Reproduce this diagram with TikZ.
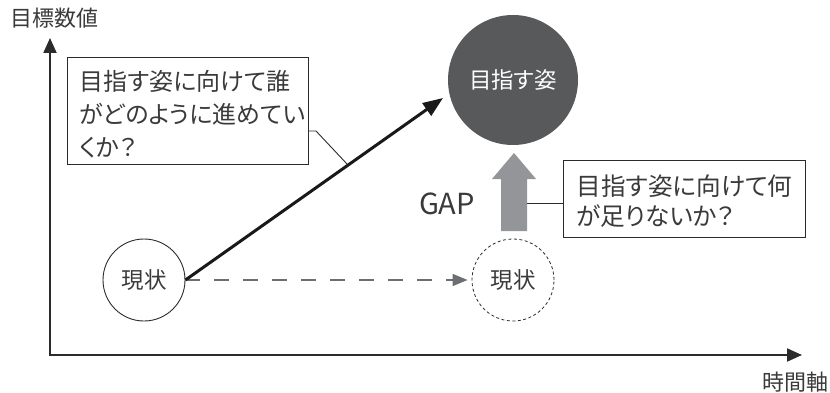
\documentclass[tikz,border=0pt]{standalone}
\usepackage{fontspec}
\setmainfont{Noto Sans CJK JP}[RawFeature=+palt]
\usetikzlibrary{arrows.meta}
\definecolor{txt}{HTML}{3A3A3A}
\definecolor{axis}{HTML}{2B2B2B}
\definecolor{darkc}{HTML}{58595B}
\definecolor{gapc}{HTML}{939598}
\definecolor{dashc}{HTML}{6D6E71}
\tikzset{
  lbl/.style={text=txt, font=\fontsize{22}{26}\selectfont, inner sep=0pt},
  notebox/.style={draw=axis, line width=0.9pt, fill=white, anchor=center},
  notetext/.style={align=left, text=txt, inner sep=0pt},
  statec/.style={circle, draw=axis, line width=0.9pt, minimum size=82pt, inner sep=0pt, text=txt, font=\fontsize{22.5}{26}\selectfont},
  thinline/.style={draw=axis, line width=0.9pt}
}
\begin{document}
\begin{tikzpicture}[x=1pt,y=-1pt]
\useasboundingbox (0,0) rectangle (830,393);
% axes
\coordinate (origin) at (50,355);
\coordinate (ytop) at (50,38);
\coordinate (xend) at (802,355);
\draw[axis, line width=2pt, {Triangle[length=15pt,width=13pt]}-{Triangle[length=15pt,width=13pt]}] (ytop) -- (origin) -- (xend);
\node[lbl] (ylab) at (54.5,18) {目標数値};
\node[lbl] (xlab) at (795,382) {時間軸};
% target circle
\node[circle, fill=darkc, minimum size=130pt, inner sep=0pt, text=white, font=\fontsize{22.5}{26}\selectfont] (goal) at (513,80) {目指す姿};
% current state circles
\node[statec] (cur) at (144,280) {現状};
\node[statec, dash pattern=on 3pt off 2.5pt, line width=0.8pt] (cur2) at (513,280) {現状};
% dashed arrow
\draw[dashc, line width=1.6pt, dash pattern=on 15pt off 14pt, -{Triangle[length=15pt,width=12pt]}, shorten >=4pt] (cur.east) -- (cur2.west);
% thick arrow
\coordinate (tip) at (443,98);
\draw[black!90, line width=3pt, -{Triangle[length=20pt,width=15pt]}] (cur.east) -- (tip);
% box 1
\node[notebox, minimum width=241pt, minimum height=107pt] (box1) at (187.5,110.5) {};
\node[notetext, anchor=west, font=\fontsize{24}{33}\selectfont] (t1) at ([xshift=13pt,yshift=-4pt]box1.west)
  {目指す姿に向けて誰\\がどのように進めてい\\くか？};
\coordinate (c1) at (316,131);
\coordinate (c2) at (347,164);
\draw[thinline] (box1.east |- c1) -- (c1) -- (c2);
% gap arrow
\fill[gapc] (501,231) -- (501,179) -- (492,179) -- (514,153) -- (536,179) -- (527,179) -- (527,231) -- cycle;
\coordinate (gapR) at (527,203);
\node[text=txt, font=\fontsize{29}{32}\selectfont, inner sep=0pt] (gap) at (447,204) {GAP};
% box 2
\node[notebox, minimum width=242pt, minimum height=77pt] (box2) at (684,198.5) {};
\node[notetext, anchor=west, font=\fontsize{24.6}{30}\selectfont] (t2) at ([xshift=14pt,yshift=-3pt]box2.west)
  {目指す姿に向けて何\\が足りないか？};
\draw[thinline] (gapR) -- (gapR -| box2.west);
\end{tikzpicture}
\end{document}
